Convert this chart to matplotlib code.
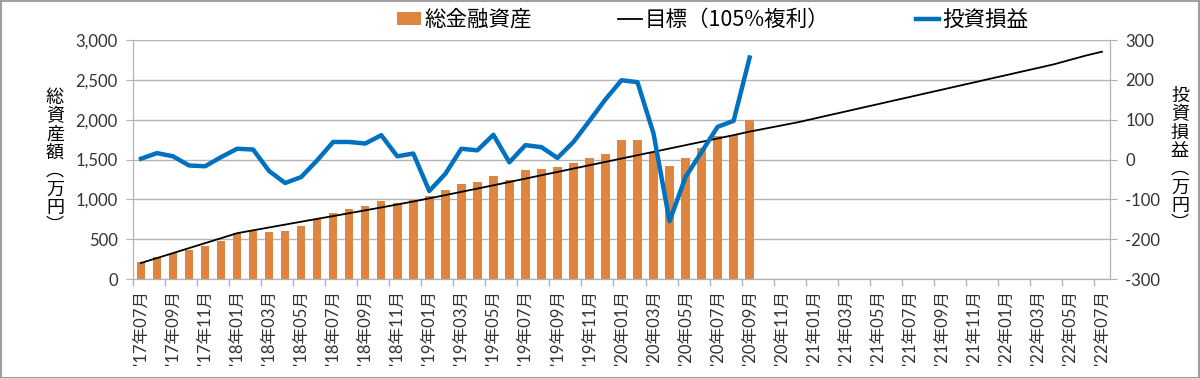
import matplotlib
matplotlib.use('Agg')
import matplotlib.pyplot as plt
import numpy as np
from matplotlib.patches import Patch
from matplotlib.lines import Line2D

plt.rcParams['font.family'] = ['Lato', 'Noto Sans CJK JP', 'DejaVu Sans']

# months '17/07 .. '22/07
months = []
for y in range(17, 23):
    for m in range(1, 13):
        if (y == 17 and m < 7) or (y == 22 and m > 7):
            continue
        months.append(f"'{y}年{m:02d}月")

# 総金融資産 (万円), '17/07 .. '20/09
total_assets = [210, 273, 323, 365, 411, 483, 575, 604, 596, 608,
                663, 751, 831, 881, 915, 982, 948, 994, 1041, 1120,
                1187, 1212, 1288, 1246, 1372, 1385, 1406, 1452, 1519, 1565,
                1745, 1745, 1590, 1414, 1519, 1641, 1800, 1813, 2001]

# 目標(105%複利) (万円), '17/07 .. '22/07
target = [201, 263, 325, 388, 450, 512, 575, 611, 647, 683,
          719, 755, 790, 826, 862, 898, 935, 973, 1012, 1053,
          1094, 1135, 1176, 1218, 1260, 1302, 1344, 1386, 1428, 1470,
          1512, 1554, 1596, 1638, 1680, 1722, 1764, 1806, 1850, 1889,
          1928, 1967, 2012, 2058, 2103, 2149, 2194, 2240, 2285, 2331,
          2376, 2422, 2467, 2513, 2558, 2604, 2649, 2695, 2750, 2805,
          2853]

# 投資損益 (万円), '17/07 .. '20/09
profit = [2, 16, 8, -15, -17, 6, 27, 25, -29, -59,
          -44, -2, 44, 44, 40, 61, 8, 15, -79, -36,
          27, 23, 62, -7, 36, 31, 4, 44, 97, 151,
          199, 194, 65, -155, -44, 19, 82, 97, 256]

bar_color = '#DE8640'
blue = '#0070C0'
grid_gray = '#B4B4B4'
tick_color = '#333333'

fig = plt.figure(figsize=(12, 3.78), dpi=100)
ax = fig.add_axes([133 / 1200, 1 - 279 / 378, (1110 - 133) / 1200, (279 - 40) / 378])
ax2 = ax.twinx()

x_all = np.arange(len(months))
x_bar = np.arange(len(total_assets))

ax.bar(x_bar, total_assets, width=0.53, color=bar_color, zorder=2)
ax.plot(x_all, target, color='black', lw=1.3, zorder=3)
ax2.plot(x_bar, profit, color=blue, lw=3.2, solid_joinstyle='round', zorder=4)

ax.set_xlim(-0.5, len(months) - 0.5)
ax.set_ylim(0, 3000)
ax2.set_ylim(-300, 300)
ax.set_yticks(np.arange(0, 3001, 500))
ax.set_yticklabels([f'{v:,}' for v in range(0, 3001, 500)])
ax2.set_yticks(np.arange(-300, 301, 100))
ax2.set_yticklabels([str(v) for v in range(-300, 301, 100)])

ax.yaxis.grid(True, color=grid_gray, lw=1.0, zorder=0)
ax.set_axisbelow(True)

# x tick labels every 2 months, tick marks at category boundaries
ax.set_xticks(x_all[::2])
ax.set_xticklabels(months[::2], rotation=90, fontsize=12, color=tick_color)
ax.set_xticks(np.arange(-0.5, len(months), 2), minor=True)
ax.tick_params(axis='x', which='major', length=0, pad=8)
ax.tick_params(axis='x', which='minor', length=5, color=grid_gray, width=1)

ax.tick_params(axis='y', length=5, color=grid_gray, labelsize=12, labelcolor=tick_color, pad=6)
ax2.tick_params(axis='y', length=5, color=grid_gray, labelsize=12, labelcolor=tick_color, pad=6)

for a in (ax, ax2):
    for s in a.spines.values():
        s.set_color(grid_gray)
    a.spines['top'].set_visible(False)

# vertical stacked axis titles
fig.text(55 / 1200, 1 - 162 / 378, '\n'.join('総資産額︵万円︶'), ha='center', va='center',
         fontsize=13, linespacing=1.02, family=['Noto Sans CJK JP'])
fig.text(1180 / 1200, 1 - 160 / 378, '\n'.join('投資損益︵万円︶'), ha='center', va='center',
         fontsize=13, linespacing=1.02, family=['Noto Sans CJK JP'])

handles = [Patch(facecolor=bar_color, edgecolor='none'),
           Line2D([0], [0], color='black', lw=1.3),
           Line2D([0], [0], color=blue, lw=3.2)]
labels = ['総金融資産', '目標（105%複利）', '投資損益']
fig.legend(handles, labels, loc='center', bbox_to_anchor=(713 / 1200, 1 - 20 / 378), ncol=3,
           frameon=False, handlelength=1.1, handleheight=0.55,
           handletextpad=0.15, columnspacing=4.0, prop={'family': ['Noto Sans CJK JP'], 'size': 15.5})

# outer frame
fig.patches.append(plt.Rectangle((0.0008, 0.001), 0.9984, 0.997, transform=fig.transFigure,
                                 fill=False, edgecolor='#A0A0A0', lw=1.5))

fig.savefig('out.png', dpi=100)
